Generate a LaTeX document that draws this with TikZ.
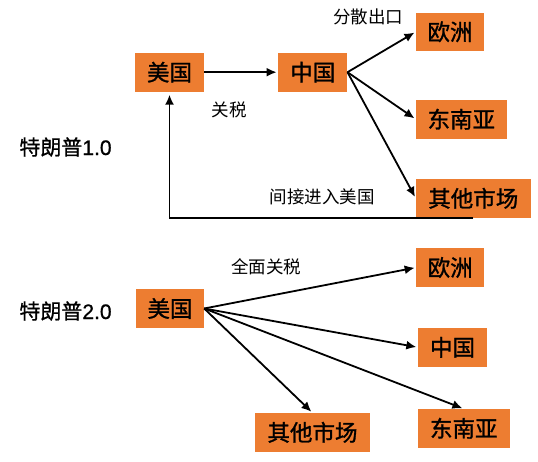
\documentclass[tikz,border=0pt]{standalone}
\usepackage{fontspec}
\setmainfont{Noto Sans CJK SC}
\newfontfamily\boxfont[FakeBold=1.2]{Noto Sans CJK SC}
\newfontfamily\titlefont[FakeBold=0.8]{Noto Sans CJK SC}
\newfontfamily\digitfont[FakeBold=0.8]{Liberation Sans}
\usetikzlibrary{arrows.meta}
\definecolor{boxorange}{HTML}{ED7D31}
\tikzset{
  box/.style={fill=boxorange, draw=none, inner sep=0pt, minimum height=38.6pt,
    font=\boxfont\fontsize{22.5}{26}\selectfont, text=black},
  lbl/.style={font=\fontsize{17.5}{20}\selectfont, text=black, inner sep=0pt},
  title/.style={font=\titlefont\fontsize{21}{25}\selectfont, text=black, inner sep=0pt},
  arr/.style={line width=1.8pt, -{Latex[length=10pt,width=9pt]}, shorten >=1.5pt},
}
\begin{document}
\begin{tikzpicture}[x=1pt,y=-1pt]
\useasboundingbox (0,0) rectangle (538,461);
% Trump 1.0
\node[box, minimum width=69pt] (us1) at (169.5,72.2) {美国};
\node[box, minimum width=69pt] (cn1) at (312.8,72.2) {中国};
\node[box, minimum width=68pt] (eu1) at (450,31.8) {欧洲};
\node[box, minimum width=90.7pt] (sea1) at (461.3,119.2) {东南亚};
\node[box, minimum width=114.7pt] (oth1) at (473.3,198.3) {其他市场};
\node[title] (t1) at (65.5,147) {特朗普{\digitfont 1.0}};
\node[lbl] (l1) at (368,16.5) {分散出口};
\node[lbl] (l2) at (229,110) {关税};
\node[lbl] (l3) at (322,196.7) {间接进入美国};
\draw[arr] (us1.east) -- (cn1.west);
\draw[arr] (cn1.east) -- (eu1.west);
\draw[arr] (cn1.east) -- (sea1.west);
\draw[arr] (cn1.east) -- (oth1.west);
\draw[arr, shorten >=3pt] (oth1.south) -| (us1.south);
% Trump 2.0
\node[box, minimum width=68pt] (us2) at (170,308.5) {美国};
\node[box, minimum width=67.7pt] (eu2) at (450.2,267.5) {欧洲};
\node[box, minimum width=69pt] (cn2) at (452.5,347.3) {中国};
\node[box, minimum width=91.7pt] (sea2) at (463.8,428.3) {东南亚};
\node[box, minimum width=114.4pt] (oth2) at (312.5,432.3) {其他市场};
\node[title] (t2) at (65.5,311) {特朗普{\digitfont 2.0}};
\node[lbl] (l4) at (266,267) {全面关税};
\draw[arr] (us2.east) -- (eu2.west);
\draw[arr] (us2.east) -- (cn2.west);
\draw[arr] (us2.east) -- (sea2.north);
\draw[arr] (us2.east) -- (oth2.north);
\end{tikzpicture}
\end{document}
